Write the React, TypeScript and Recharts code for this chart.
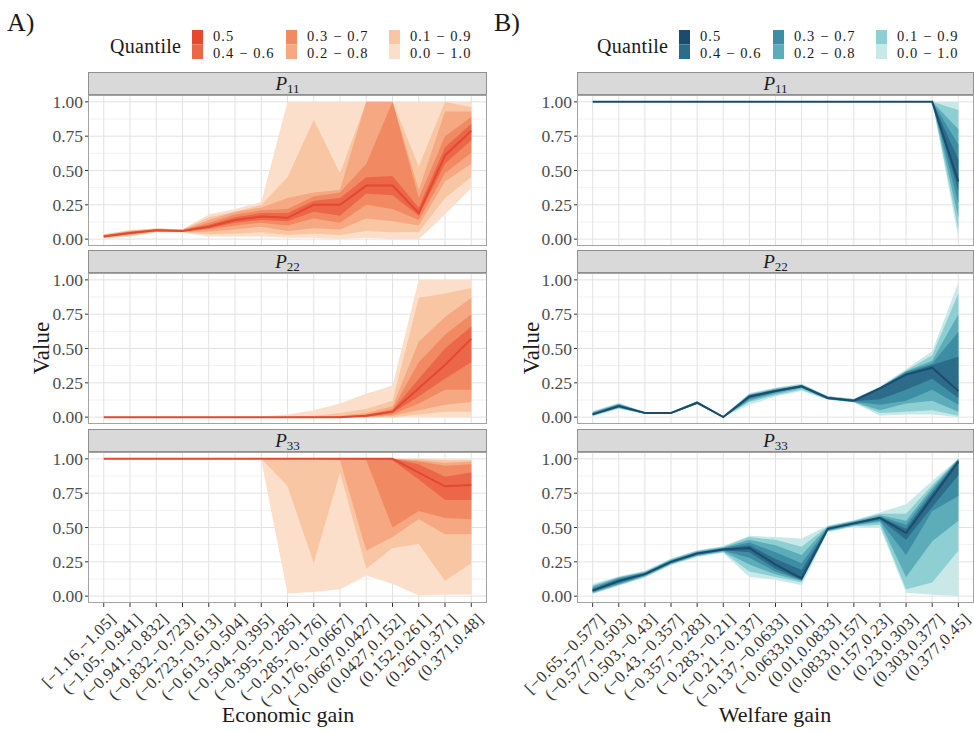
import React from "react";
import { ComposedChart, Area, Line, XAxis, YAxis, CartesianGrid } from "recharts";

const serif = "'Liberation Serif', 'Times New Roman', Times, Tinos, 'Noto Serif', 'DejaVu Serif', FreeSerif, serif";

// interval categories
const econCats = ["[−1.16,−1.05]", "(−1.05,−0.941]", "(−0.941,−0.832]", "(−0.832,−0.723]", "(−0.723,−0.613]", "(−0.613,−0.504]", "(−0.504,−0.395]", "(−0.395,−0.285]", "(−0.285,−0.176]", "(−0.176,−0.0667]", "(−0.0667,0.0427]", "(0.0427,0.152]", "(0.152,0.261]", "(0.261,0.371]", "(0.371,0.48]"];
const welfCats = ["[−0.65,−0.577]", "(−0.577,−0.503]", "(−0.503,−0.43]", "(−0.43,−0.357]", "(−0.357,−0.283]", "(−0.283,−0.21]", "(−0.21,−0.137]", "(−0.137,−0.0633]", "(−0.0633,0.01]", "(0.01,0.0833]", "(0.0833,0.157]", "(0.157,0.23]", "(0.23,0.303]", "(0.303,0.377]", "(0.377,0.45]"];

const yTicks = [0, 0.25, 0.5, 0.75, 1];
const yMinor = [0.125, 0.375, 0.625, 0.875];
const xTicks = [0, 1, 2, 3, 4, 5, 6, 7, 8, 9, 10, 11, 12, 13, 14];

// A) economic gain, P11
const aP11Med = [0.02, 0.045, 0.065, 0.06, 0.09, 0.14, 0.165, 0.155, 0.25, 0.25, 0.39, 0.39, 0.19, 0.61, 0.79];
const aP11Q40 = [[0.018, 0.025], [0.04, 0.05], [0.06, 0.068], [0.057, 0.064], [0.08, 0.105], [0.12, 0.16], [0.14, 0.19], [0.13, 0.19], [0.2, 0.28], [0.17, 0.3], [0.33, 0.45], [0.32, 0.46], [0.17, 0.23], [0.55, 0.67], [0.72, 0.84]];
const aP11Q30 = [[0.015, 0.028], [0.035, 0.055], [0.057, 0.071], [0.055, 0.066], [0.07, 0.12], [0.1, 0.18], [0.12, 0.21], [0.1, 0.22], [0.15, 0.31], [0.12, 0.34], [0.25, 0.55], [0.22, 1.0], [0.14, 0.3], [0.48, 0.75], [0.63, 0.89]];
const aP11Q20 = [[0.012, 0.031], [0.03, 0.06], [0.055, 0.074], [0.053, 0.068], [0.055, 0.14], [0.07, 0.2], [0.09, 0.23], [0.06, 0.3], [0.08, 0.34], [0.07, 0.36], [0.15, 1.0], [0.13, 1.0], [0.1, 0.36], [0.42, 0.93], [0.55, 0.93]];
const aP11Q10 = [[0.01, 0.034], [0.025, 0.063], [0.052, 0.077], [0.05, 0.07], [0.035, 0.16], [0.04, 0.2], [0.05, 0.25], [0.03, 0.45], [0.04, 0.87], [0.03, 0.48], [0.06, 1.0], [0.05, 1.0], [0.05, 0.53], [0.3, 1.0], [0.45, 0.96]];
const aP11Q00 = [[0.005, 0.037], [0.02, 0.066], [0.05, 0.08], [0.048, 0.072], [0.02, 0.18], [0.02, 0.22], [0.02, 0.27], [0.01, 1.0], [0.01, 1.0], [0.0, 1.0], [0.01, 1.0], [0.0, 1.0], [0.0, 1.0], [0.18, 1.0], [0.37, 1.0]];

// A) P22
const aP22Med = [0, 0, 0, 0, 0, 0, 0, 0, 0, 0, 0.01, 0.04, 0.21, 0.38, 0.57];
const aP22Q40 = [[0, 0], [0, 0], [0, 0], [0, 0], [0, 0], [0, 0], [0, 0], [0, 0], [0, 0], [0, 0.002], [0.005, 0.015], [0.03, 0.05], [0.15, 0.28], [0.28, 0.5], [0.4, 0.66]];
const aP22Q30 = [[0, 0], [0, 0], [0, 0], [0, 0], [0, 0], [0, 0], [0, 0], [0, 0], [0, 0], [0, 0.005], [0.003, 0.02], [0.02, 0.06], [0.1, 0.4], [0.2, 0.6], [0.2, 0.75]];
const aP22Q20 = [[0, 0], [0, 0], [0, 0], [0, 0], [0, 0], [0, 0], [0, 0], [0, 0.002], [0, 0.004], [0, 0.01], [0, 0.03], [0.01, 0.08], [0.05, 0.55], [0.09, 0.73], [0.11, 0.87]];
const aP22Q10 = [[0, 0], [0, 0], [0, 0], [0, 0], [0, 0], [0, 0], [0, 0], [0, 0.005], [0, 0.01], [0, 0.03], [0, 0.06], [0, 0.12], [0.02, 0.87], [0.04, 0.9], [0.04, 0.94]];
const aP22Q00 = [[0, 0], [0, 0], [0, 0], [0, 0], [0, 0], [0, 0], [0, 0.005], [0, 0.02], [0, 0.05], [0, 0.1], [0, 0.17], [0, 0.23], [0, 1.0], [0, 1.0], [0, 1.0]];

// A) P33
const aP33Med = [1, 1, 1, 1, 1, 1, 1, 1, 1, 1, 1, 1, 0.9, 0.8, 0.81];
const aP33Q40 = [[1, 1], [1, 1], [1, 1], [1, 1], [1, 1], [1, 1], [1, 1], [1, 1], [1, 1], [1, 1], [1, 1], [0.99, 1], [0.85, 0.96], [0.7, 0.87], [0.7, 0.9]];
const aP33Q30 = [[1, 1], [1, 1], [1, 1], [1, 1], [1, 1], [1, 1], [1, 1], [1, 1], [1, 1], [1, 1], [0.99, 1], [0.5, 1], [0.62, 0.98], [0.57, 0.95], [0.56, 0.96]];
const aP33Q20 = [[1, 1], [1, 1], [1, 1], [1, 1], [1, 1], [1, 1], [1, 1], [1, 1], [1, 1], [0.99, 1], [0.33, 1], [0.43, 1], [0.56, 0.99], [0.45, 0.97], [0.45, 0.98]];
const aP33Q10 = [[1, 1], [1, 1], [1, 1], [1, 1], [1, 1], [1, 1], [1, 1], [0.8, 1], [0.24, 1], [0.9, 1], [0.2, 1], [0.35, 1], [0.38, 1], [0.11, 0.99], [0.24, 0.99]];
const aP33Q00 = [[1, 1], [1, 1], [1, 1], [1, 1], [1, 1], [1, 1], [0.99, 1], [0.02, 1], [0.03, 1], [0.05, 1], [0.15, 1], [0.09, 1], [0.005, 1], [0.01, 1], [0.01, 1]];

// B) welfare gain, P11
const bP11Med = [1, 1, 1, 1, 1, 1, 1, 1, 1, 1, 1, 1, 1, 1, 0.42];
const bP11Q40 = [[1, 1], [1, 1], [1, 1], [1, 1], [1, 1], [1, 1], [1, 1], [1, 1], [1, 1], [1, 1], [1, 1], [1, 1], [1, 1], [1, 1], [0.35, 0.58]];
const bP11Q30 = [[1, 1], [1, 1], [1, 1], [1, 1], [1, 1], [1, 1], [1, 1], [1, 1], [1, 1], [1, 1], [1, 1], [1, 1], [1, 1], [1, 1], [0.26, 0.69]];
const bP11Q20 = [[1, 1], [1, 1], [1, 1], [1, 1], [1, 1], [1, 1], [1, 1], [1, 1], [1, 1], [1, 1], [1, 1], [1, 1], [1, 1], [1, 1], [0.16, 0.8]];
const bP11Q10 = [[1, 1], [1, 1], [1, 1], [1, 1], [1, 1], [1, 1], [1, 1], [1, 1], [1, 1], [1, 1], [1, 1], [1, 1], [1, 1], [1, 1], [0.07, 0.94]];
const bP11Q00 = [[0.99, 1], [1, 1], [1, 1], [1, 1], [1, 1], [1, 1], [1, 1], [1, 1], [1, 1], [1, 1], [1, 1], [1, 1], [1, 1], [1, 1], [0.01, 1.0]];

// B) P22
const bP22Med = [0.02, 0.08, 0.03, 0.03, 0.105, 0.0, 0.15, 0.19, 0.225, 0.14, 0.12, 0.21, 0.31, 0.36, 0.19];
const bP22Q40 = [[0.018, 0.025], [0.075, 0.085], [0.028, 0.032], [0.028, 0.032], [0.1, 0.11], [0, 0.005], [0.14, 0.155], [0.185, 0.195], [0.22, 0.23], [0.135, 0.145], [0.115, 0.125], [0.13, 0.215], [0.2, 0.32], [0.28, 0.38], [0.14, 0.44]];
const bP22Q30 = [[0.015, 0.03], [0.07, 0.09], [0.027, 0.034], [0.027, 0.034], [0.098, 0.112], [0, 0.006], [0.13, 0.16], [0.18, 0.2], [0.215, 0.232], [0.133, 0.147], [0.113, 0.127], [0.09, 0.215], [0.12, 0.33], [0.2, 0.39], [0.09, 0.62]];
const bP22Q20 = [[0.012, 0.035], [0.067, 0.095], [0.026, 0.035], [0.026, 0.035], [0.096, 0.114], [0, 0.007], [0.12, 0.165], [0.17, 0.205], [0.21, 0.235], [0.13, 0.15], [0.11, 0.13], [0.05, 0.218], [0.1, 0.335], [0.12, 0.41], [0.04, 0.75]];
const bP22Q10 = [[0.01, 0.04], [0.065, 0.1], [0.025, 0.036], [0.025, 0.036], [0.095, 0.115], [0, 0.008], [0.11, 0.17], [0.16, 0.21], [0.2, 0.24], [0.128, 0.152], [0.108, 0.132], [0.03, 0.22], [0.04, 0.34], [0.05, 0.45], [0.01, 0.9]];
const bP22Q00 = [[0.005, 0.045], [0.06, 0.105], [0.024, 0.037], [0.024, 0.037], [0.094, 0.116], [0, 0.009], [0.09, 0.175], [0.15, 0.215], [0.19, 0.245], [0.126, 0.154], [0.106, 0.134], [0.01, 0.225], [0.02, 0.35], [0.02, 0.48], [0.0, 0.98]];

// B) P33
const bP33Med = [0.04, 0.11, 0.16, 0.25, 0.31, 0.34, 0.35, 0.23, 0.13, 0.49, 0.53, 0.57, 0.46, 0.72, 0.98];
const bP33Q40 = [[0.035, 0.05], [0.1, 0.12], [0.155, 0.165], [0.245, 0.255], [0.305, 0.315], [0.335, 0.345], [0.32, 0.37], [0.2, 0.27], [0.12, 0.19], [0.485, 0.495], [0.525, 0.535], [0.56, 0.575], [0.41, 0.49], [0.65, 0.75], [0.88, 0.99]];
const bP33Q30 = [[0.03, 0.06], [0.09, 0.13], [0.15, 0.17], [0.24, 0.26], [0.3, 0.32], [0.33, 0.35], [0.28, 0.39], [0.18, 0.32], [0.115, 0.24], [0.48, 0.5], [0.52, 0.54], [0.55, 0.58], [0.3, 0.52], [0.62, 0.77], [0.73, 0.995]];
const bP33Q20 = [[0.025, 0.07], [0.085, 0.135], [0.145, 0.175], [0.235, 0.265], [0.295, 0.325], [0.325, 0.355], [0.23, 0.41], [0.16, 0.37], [0.11, 0.3], [0.475, 0.505], [0.515, 0.545], [0.54, 0.59], [0.14, 0.55], [0.4, 0.79], [0.55, 1.0]];
const bP33Q10 = [[0.02, 0.08], [0.08, 0.14], [0.14, 0.18], [0.23, 0.27], [0.29, 0.33], [0.32, 0.36], [0.18, 0.43], [0.14, 0.41], [0.1, 0.36], [0.47, 0.51], [0.51, 0.55], [0.52, 0.6], [0.05, 0.6], [0.1, 0.81], [0.33, 1.0]];
const bP33Q00 = [[0.015, 0.09], [0.075, 0.145], [0.135, 0.185], [0.225, 0.275], [0.285, 0.335], [0.315, 0.365], [0.14, 0.44], [0.12, 0.43], [0.08, 0.42], [0.465, 0.515], [0.505, 0.555], [0.5, 0.61], [0.025, 0.67], [0.01, 0.84], [0.0, 1.0]];

const quantLabels = ["0.5", "0.4 − 0.6", "0.3 − 0.7", "0.2 − 0.8", "0.1 − 0.9", "0.0 − 1.0"];

const redPal = { med: "#e4482f", q40: "#ec6749", q30: "#f18a63", q20: "#f5a881", q10: "#f9c6a4", q00: "#fcdfcb" };
const bluePal = { med: "#1c4b6b", q40: "#2c6c8a", q30: "#3d8da4", q20: "#5cacba", q10: "#8dcfd3", q00: "#c9e9e9" };
const bandKeys = ["q00", "q10", "q20", "q30", "q40"];

const makeRows = (med, q00, q10, q20, q30, q40) =>
  med.map((m, i) => ({ i, med: m, q00: q00[i], q10: q10[i], q20: q20[i], q30: q30[i], q40: q40[i] }));

const Y_W = 80;
const X_H = 115;
const PAD = 12;

const Facet = ({ left, top, w, h, rows, pal, cats, showX, label }) => {
  const xh = showX ? X_H : 0;
  const catTick = (p) => (
    <text
      transform={`translate(${p.x + 5},${p.y + 3}) rotate(-45)`}
      textAnchor="end"
      dy="0.7em"
      fontFamily={serif}
      fontSize={16.5}
      letterSpacing={0.4}
      fill="#333"
    >
      {cats[p.payload.value]}
    </text>
  );
  return (
    <>
      <div style={{ position: "absolute", left, top: top - 23, width: w, height: 23, background: "#d9d9d9", border: "1px solid #8f8f8f", boxSizing: "border-box", display: "flex", alignItems: "center", justifyContent: "center", fontFamily: serif, fontSize: 19, color: "#1a1a1a" }}>
        <span style={{ fontStyle: "italic" }}>P</span>
        <span style={{ fontSize: 13, position: "relative", top: 5 }}>{label}</span>
      </div>
      <div style={{ position: "absolute", left: left - Y_W, top: top - PAD }}>
        <ComposedChart width={w + Y_W} height={h + xh + PAD * 2} data={rows} margin={{ top: PAD, right: 0, bottom: PAD, left: 0 }}>
          <CartesianGrid horizontalValues={yMinor} vertical={false} stroke="#f1f1f1" />
          <CartesianGrid horizontalValues={yTicks} verticalValues={xTicks} stroke="#e2e2e2" />
          <XAxis
            type="number"
            dataKey="i"
            domain={[-0.6, 14.6]}
            ticks={xTicks}
            interval={0}
            allowDataOverflow
            hide={!showX}
            height={X_H}
            axisLine={false}
            tickSize={4}
            tickLine={{ stroke: "#333" }}
            tick={catTick}
          />
          <YAxis
            type="number"
            domain={[-0.05, 1.05]}
            ticks={yTicks}
            interval={0}
            allowDataOverflow
            width={Y_W}
            axisLine={false}
            tickSize={3}
            tickLine={{ stroke: "#333" }}
            tickFormatter={(v) => v.toFixed(2)}
            tick={{ fontFamily: serif, fontSize: 17.5, fill: "#4d4d4d" }}
          />
          {bandKeys.map((k) => (
            <Area key={k} type="linear" dataKey={k} fill={pal[k]} fillOpacity={1} stroke="none" dot={false} activeDot={false} isAnimationActive={false} />
          ))}
          <Line type="linear" dataKey="med" stroke={pal.med} strokeWidth={2} dot={false} activeDot={false} isAnimationActive={false} />
        </ComposedChart>
      </div>
      <div style={{ position: "absolute", left, top, width: w, height: h, border: "1px solid #a3a3a3", boxSizing: "border-box", pointerEvents: "none" }} />
    </>
  );
};

const Legend = ({ x, pal }) => {
  const cols = [[pal.med, pal.q40], [pal.q30, pal.q20], [pal.q10, pal.q00]];
  const colX = [82, 176, 279];
  return (
    <g>
      <text x={x} y={53} fontFamily={serif} fontSize={20} letterSpacing={0.3} fill="#1a1a1a">Quantile</text>
      {cols.map((c, ci) => (
        <g key={ci}>
          <rect x={x + colX[ci]} y={30} width={11} height={14.5} fill={c[0]} />
          <rect x={x + colX[ci]} y={44.5} width={11} height={14.5} fill={c[1]} />
          <text x={x + colX[ci] + 21} y={41} fontFamily={serif} fontSize={14.5} letterSpacing={1.1} fill="#1a1a1a">{quantLabels[ci * 2]}</text>
          <text x={x + colX[ci] + 21} y={57.5} fontFamily={serif} fontSize={14.5} letterSpacing={1.1} fill="#1a1a1a">{quantLabels[ci * 2 + 1]}</text>
        </g>
      ))}
    </g>
  );
};

const App = () => {
  const aL = 88, aW = 399, bL = 577, bW = 397;
  const rowsTop = [95, 273, 452];
  const h = 151;
  return (
    <div style={{ position: "absolute", left: 0, top: 0, width: 974, height: 733, background: "#fff", overflow: "hidden", fontFamily: serif }}>
      <Facet left={aL} top={rowsTop[0]} w={aW} h={h} pal={redPal} cats={econCats} label="11" rows={makeRows(aP11Med, aP11Q00, aP11Q10, aP11Q20, aP11Q30, aP11Q40)} />
      <Facet left={aL} top={rowsTop[1]} w={aW} h={h} pal={redPal} cats={econCats} label="22" rows={makeRows(aP22Med, aP22Q00, aP22Q10, aP22Q20, aP22Q30, aP22Q40)} />
      <Facet left={aL} top={rowsTop[2]} w={aW} h={h} pal={redPal} cats={econCats} label="33" showX rows={makeRows(aP33Med, aP33Q00, aP33Q10, aP33Q20, aP33Q30, aP33Q40)} />
      <Facet left={bL} top={rowsTop[0]} w={bW} h={h} pal={bluePal} cats={welfCats} label="11" rows={makeRows(bP11Med, bP11Q00, bP11Q10, bP11Q20, bP11Q30, bP11Q40)} />
      <Facet left={bL} top={rowsTop[1]} w={bW} h={h} pal={bluePal} cats={welfCats} label="22" rows={makeRows(bP22Med, bP22Q00, bP22Q10, bP22Q20, bP22Q30, bP22Q40)} />
      <Facet left={bL} top={rowsTop[2]} w={bW} h={h} pal={bluePal} cats={welfCats} label="33" showX rows={makeRows(bP33Med, bP33Q00, bP33Q10, bP33Q20, bP33Q30, bP33Q40)} />
      <svg width={974} height={733} style={{ position: "absolute", left: 0, top: 0, pointerEvents: "none" }}>
        <text x={7} y={31} fontFamily={serif} fontSize={26} fill="#1a1a1a">A)</text>
        <text x={494} y={31} fontFamily={serif} fontSize={26} fill="#1a1a1a">B)</text>
        <Legend x={110} pal={redPal} />
        <Legend x={597} pal={bluePal} />
        <text x={288} y={722} textAnchor="middle" fontFamily={serif} fontSize={22} fill="#1a1a1a">Economic gain</text>
        <text x={775} y={722} textAnchor="middle" fontFamily={serif} fontSize={22} fill="#1a1a1a">Welfare gain</text>
        <text transform="translate(49,348) rotate(-90)" textAnchor="middle" fontFamily={serif} fontSize={23} fill="#1a1a1a">Value</text>
        <text transform="translate(539,348) rotate(-90)" textAnchor="middle" fontFamily={serif} fontSize={23} fill="#1a1a1a">Value</text>
      </svg>
    </div>
  );
};

export default App;
